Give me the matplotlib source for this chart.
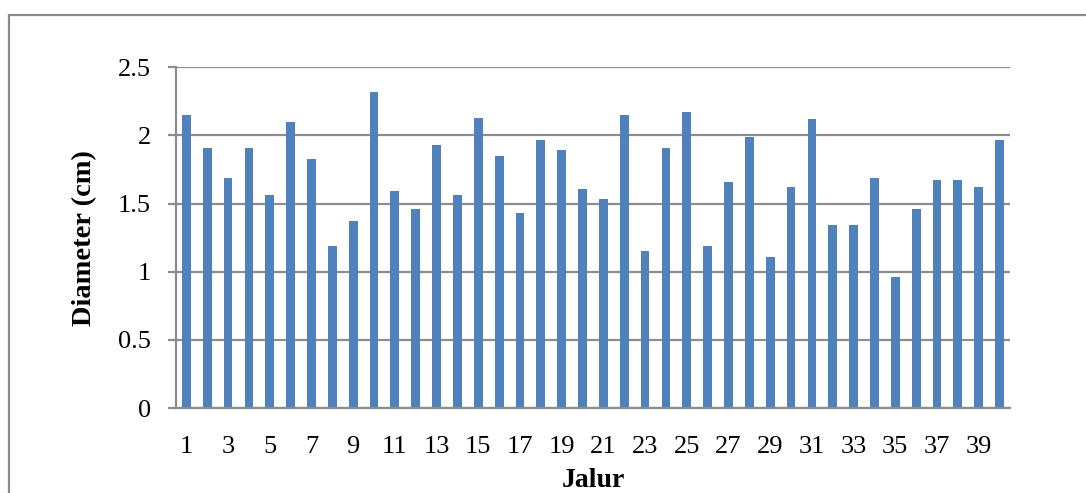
import matplotlib.pyplot as plt
from matplotlib.patches import Rectangle
import numpy as np

# diameter per jalur (cm)
jalur = list(range(1, 41))
diameter = [2.15, 1.91, 1.69, 1.91, 1.56, 2.10, 1.83, 1.19, 1.37, 2.32,
            1.59, 1.46, 1.93, 1.56, 2.13, 1.85, 1.43, 1.97, 1.89, 1.61,
            1.53, 2.15, 1.15, 1.91, 2.17, 1.19, 1.66, 1.99, 1.11, 1.62,
            2.12, 1.34, 1.34, 1.69, 0.96, 1.46, 1.67, 1.67, 1.62, 1.97]
y_ticks = [0, 0.5, 1, 1.5, 2, 2.5]
y_tick_labels = ["0", "0.5", "1", "1.5", "2", "2.5"]

plt.rcParams["font.family"] = ["Liberation Serif", "DejaVu Serif"]
grid_color = "#8c8c8c"

fig = plt.figure(figsize=(10.86, 4.93), dpi=100)
ax = fig.add_axes([0.162, 0.1724, 0.768, 0.6911])

x = np.arange(len(jalur))
ax.bar(x, diameter, width=0.42, color="#4F81BD", zorder=3)

ax.set_xlim(-0.5, len(jalur) - 0.5)
ax.set_ylim(0, 2.5)
ax.set_yticks(y_ticks)
ax.set_yticklabels(y_tick_labels)
ax.set_xticks(x[::2])
ax.set_xticklabels([str(j) for j in jalur[::2]])

ax.yaxis.grid(True, color=grid_color, linewidth=1.6, zorder=0)
for side in ["top", "right", "bottom"]:
    ax.spines[side].set_visible(False)
ax.spines["left"].set_color(grid_color)
ax.spines["left"].set_linewidth(1.6)
ax.axhline(0, color=grid_color, linewidth=1.6, zorder=4, clip_on=False)

ax.tick_params(axis="y", length=6, width=1.6, color=grid_color,
               labelsize=19, pad=12)
ax.tick_params(axis="x", length=0, labelsize=19, pad=20)

ax.set_ylabel("Diameter (cm)", fontsize=20.5, fontweight="bold", va="center")
ax.yaxis.set_label_coords(-0.110, 0.5)
ax.set_xlabel("Jalur", fontsize=20, fontweight="bold", va="center")
ax.xaxis.set_label_coords(0.5, -0.212)

# chart frame
fig.patches.append(Rectangle((9 / 1086, -0.2), 1.2, 0.2 + 1 - 15 / 493,
                             transform=fig.transFigure, fill=False,
                             edgecolor=grid_color, linewidth=1.6))

fig.savefig("out.png", dpi=100)
